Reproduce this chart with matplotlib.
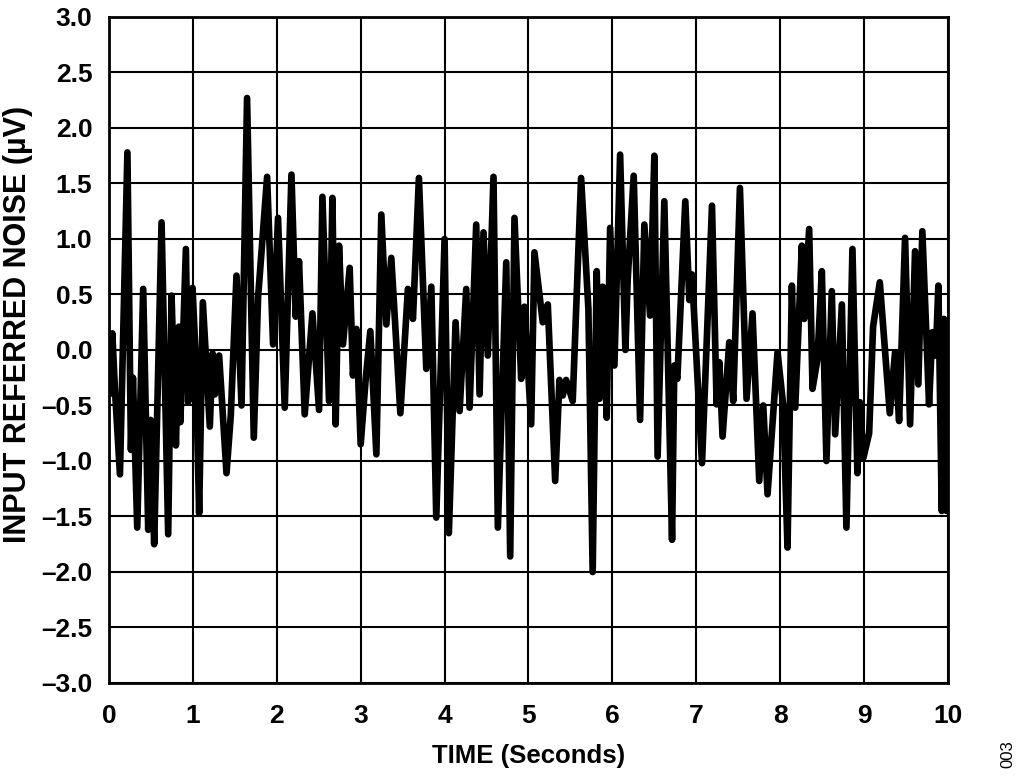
import matplotlib
matplotlib.use("Agg")
import matplotlib.pyplot as plt

# noise trace (seconds, µV)
time_s = [
    0.005, 0.040, 0.071, 0.131, 0.220, 0.262, 0.286, 0.337, 0.408, 0.468,
    0.496, 0.539, 0.627, 0.706, 0.746, 0.798, 0.833, 0.851, 0.917, 0.944,
    0.996, 1.030, 1.075, 1.119, 1.202, 1.235, 1.262, 1.313, 1.401, 1.452,
    1.520, 1.580, 1.646, 1.726, 1.777, 1.885, 1.956, 2.015, 2.095, 2.175,
    2.226, 2.265, 2.333, 2.425, 2.504, 2.544, 2.623, 2.663, 2.702, 2.742,
    2.789, 2.869, 2.908, 2.949, 3.000, 3.060, 3.115, 3.187, 3.246, 3.306,
    3.365, 3.473, 3.563, 3.623, 3.694, 3.782, 3.842, 3.901, 4.000, 4.051,
    4.131, 4.179, 4.258, 4.298, 4.377, 4.417, 4.464, 4.515, 4.583, 4.635,
    4.735, 4.782, 4.833, 4.913, 4.952, 5.032, 5.071, 5.170, 5.230, 5.318,
    5.369, 5.408, 5.449, 5.527, 5.627, 5.714, 5.765, 5.813, 5.845, 5.885,
    5.932, 5.973, 6.024, 6.092, 6.155, 6.182, 6.254, 6.330, 6.381, 6.449,
    6.500, 6.539, 6.619, 6.711, 6.738, 6.774, 6.869, 6.917, 6.949, 7.068,
    7.187, 7.242, 7.274, 7.313, 7.393, 7.440, 7.520, 7.599, 7.670, 7.750,
    7.798, 7.849, 7.968, 8.036, 8.087, 8.139, 8.179, 8.258, 8.286, 8.345,
    8.385, 8.444, 8.496, 8.551, 8.615, 8.655, 8.735, 8.789, 8.861, 8.920,
    8.949, 8.992, 9.060, 9.107, 9.187, 9.306, 9.369, 9.417, 9.488, 9.548,
    9.607, 9.646, 9.694, 9.774, 9.813, 9.854, 9.885, 9.925, 9.952, 9.982,
]
noise_uv = [
    -0.40, 0.15, -0.35, -1.12, 1.78, -0.90, -0.25, -1.60, 0.55, -1.62,
    -0.63, -1.75, 1.15, -1.66, 0.49, -0.86, 0.21, -0.65, 0.91, -0.47,
    0.56, 0.00, -1.47, 0.43, -0.69, -0.03, -0.40, -0.05, -1.11, -0.59,
    0.67, -0.50, 2.27, -0.79, 0.47, 1.56, 0.05, 1.19, -0.52, 1.58,
    0.30, 0.80, -0.58, 0.33, -0.54, 1.38, -0.46, 1.37, -0.67, 0.94,
    0.05, 0.74, -0.23, 0.19, -0.85, -0.26, 0.17, -0.94, 1.22, 0.23,
    0.83, -0.57, 0.55, 0.28, 1.55, -0.17, 0.57, -1.51, 1.00, -1.65,
    0.25, -0.55, 0.55, -0.52, 1.13, -0.40, 1.06, -0.05, 1.56, -1.60,
    0.79, -1.86, 1.19, -0.26, 0.39, -0.67, 0.88, 0.25, 0.41, -1.18,
    -0.27, -0.41, -0.27, -0.46, 1.55, 0.37, -2.00, 0.71, -0.44, 0.57,
    -0.61, 1.10, -0.14, 1.76, 0.00, 0.63, 1.57, -0.63, 1.13, 0.31,
    1.75, -0.96, 1.34, -1.71, -0.14, -0.26, 1.34, 0.45, 0.68, -1.02,
    1.30, -0.49, -0.11, -0.78, 0.07, -0.46, 1.46, -0.44, 0.33, -1.18,
    -0.50, -1.30, -0.02, -0.50, -1.78, 0.58, -0.52, 0.94, 0.28, 1.09,
    -0.35, -0.08, 0.71, -1.00, 0.53, -0.76, 0.41, -1.60, 0.91, -1.11,
    -0.47, -0.97, -0.75, 0.21, 0.61, -0.57, -0.02, -0.64, 1.01, -0.67,
    0.89, -0.31, 1.07, -0.49, 0.16, -0.05, 0.58, -1.45, 0.28, -1.45,
]

x_ticks = list(range(0, 11))
y_ticks = [-3.0, -2.5, -2.0, -1.5, -1.0, -0.5, 0.0, 0.5, 1.0, 1.5, 2.0, 2.5, 3.0]
y_tick_labels = [f"{v:.1f}".replace("-", "\u2013") for v in y_ticks]

plt.rcParams["font.family"] = ["Liberation Sans", "DejaVu Sans"]

fig = plt.figure(figsize=(10.24, 7.82), dpi=100)
ax = fig.add_axes([0.1064, 0.1266, 0.8194, 0.8517])

ax.plot(time_s, noise_uv, color="black", linewidth=4.8,
        solid_joinstyle="round", solid_capstyle="round")

ax.set_xlim(0, 10)
ax.set_ylim(-3.0, 3.0)
ax.set_xticks(x_ticks)
ax.set_yticks(y_ticks)
ax.set_yticklabels(y_tick_labels)
ax.grid(True, color="black", linewidth=1.5)
ax.set_axisbelow(True)
ax.tick_params(length=0, labelsize=19)
ax.tick_params(axis="x", pad=15)
ax.tick_params(axis="y", pad=12)
for lbl in ax.get_xticklabels() + ax.get_yticklabels():
    lbl.set_fontweight("bold")
for sp in ax.spines.values():
    sp.set_linewidth(2.0)
    sp.set_color("black")

ax.set_xlabel("TIME (Seconds)", fontsize=18.5, fontweight="bold", labelpad=12)
ax.set_ylabel("INPUT REFERRED NOISE (µV)", fontsize=22, fontweight="bold")
ax.yaxis.set_label_coords(-0.090, 0.539)

fig.text(0.984, 0.036, "003", rotation=90, fontsize=12, color="black",
         ha="center", va="center")

fig.savefig("out.png", dpi=100)
